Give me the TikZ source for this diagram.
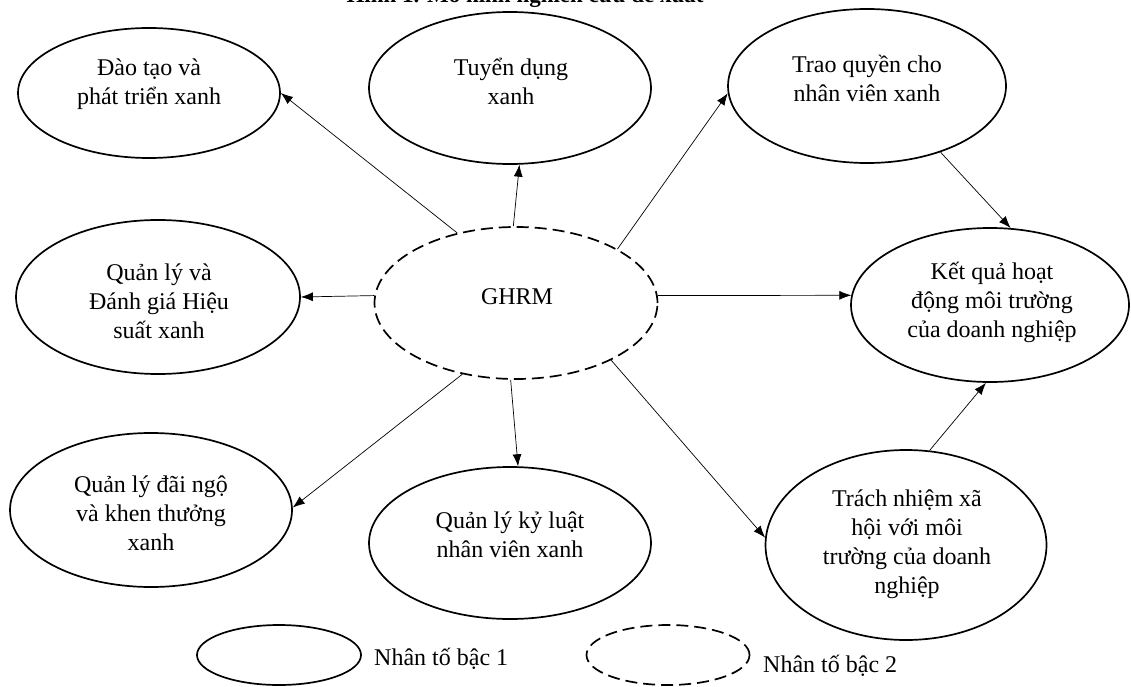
\documentclass[tikz,border=0pt]{standalone}
\usepackage{fontspec}
\setmainfont{Liberation Serif}
\usetikzlibrary{shapes.geometric,arrows.meta}
\begin{document}
\begin{tikzpicture}[x=1pt,y=-1pt,
  factor/.style={draw, ellipse, line width=1.7pt, inner sep=0pt},
  second/.style={factor, dash pattern=on 12pt off 6pt},
  lbl/.style={align=center, font=\fontsize{24}{29}\selectfont, inner sep=0pt},
  arr/.style={-{Latex[length=12pt,width=9pt]}, line width=0.7pt}]
\useasboundingbox (0,0) rectangle (1131,687);
\clip (0,0) rectangle (1131,687);

% title (cut at the top edge, as in the reference)
\node[font=\fontsize{23}{28}\selectfont\bfseries, anchor=base, inner sep=0pt] (title) at (525,3) {Hình 1. Mô hình nghiên cứu đề xuất};

% ellipses
\node[factor, minimum width=262pt, minimum height=130pt] (dt) at (149,93) {};
\node[factor, minimum width=282pt, minimum height=152pt] (td) at (510,88) {};
\node[factor, minimum width=278pt, minimum height=154pt] (tq) at (867,86) {};
\node[second, minimum width=283pt, minimum height=152pt] (ghrm) at (516,303) {};
\node[factor, minimum width=278pt, minimum height=154pt] (kq) at (990,305) {};
\node[factor, minimum width=284pt, minimum height=154pt] (qd) at (158,297) {};
\node[factor, minimum width=282pt, minimum height=154pt] (dn) at (151,510) {};
\node[factor, minimum width=282pt, minimum height=152pt] (kl) at (510,543) {};
\node[factor, minimum width=281pt, minimum height=190pt] (tn) at (906,545) {};

% labels
\node[lbl] (dt-t) at (149,84) {Đào tạo và\\phát triển xanh};
\node[lbl] (td-t) at (511,81) {Tuyển dụng\\xanh};
\node[lbl] (tq-t) at (867,78) {Trao quyền cho\\nhân viên xanh};
\node[lbl] (ghrm-t) at (517,297) {GHRM};
\node[lbl] (kq-t) at (992,302) {Kết quả hoạt\\động môi trường\\của doanh nghiệp};
\node[lbl] (qd-t) at (159,301) {Quản lý và\\Đánh giá Hiệu\\suất xanh};
\node[lbl] (dn-t) at (151,513) {Quản lý đãi ngộ\\và khen thưởng\\xanh};
\node[lbl] (kl-t) at (510,535) {Quản lý kỷ luật\\nhân viên xanh};
\node[lbl] (tn-t) at (907,544) {Trách nhiệm xã\\hội với môi\\trường của doanh\\nghiệp};

% connectors
\draw[arr] (ghrm.130) -- (dt.0);
\draw[arr] (ghrm.92) -- (td.277);
\draw[arr] (ghrm.28.6) -- (tq.183);
\draw[arr] (tq.318.7) -- (kq.75.3);
\draw[arr] (ghrm.3) -- (kq.176);
\draw[arr] (ghrm.177.5) -- (qd.0);
\draw[arr] (ghrm.233.6) -- (dn.1);
\draw[arr] (ghrm.266) -- (kl.84);
\draw[arr] (ghrm.329.5) -- (tn.177);
\draw[arr] (tn.76.8) -- (kq.267.7);

% legend
\node[factor, minimum width=164pt, minimum height=60pt] (leg1) at (279,655) {};
\node[font=\fontsize{24}{29}\selectfont, anchor=base west, inner sep=0pt] (leg1-t) at (374,665) {Nhân tố bậc 1};
\node[second, minimum width=163pt, minimum height=60pt] (leg2) at (668,655) {};
\node[font=\fontsize{24}{29}\selectfont, anchor=base west, inner sep=0pt] (leg2-t) at (763,672) {Nhân tố bậc 2};
\end{tikzpicture}
\end{document}
